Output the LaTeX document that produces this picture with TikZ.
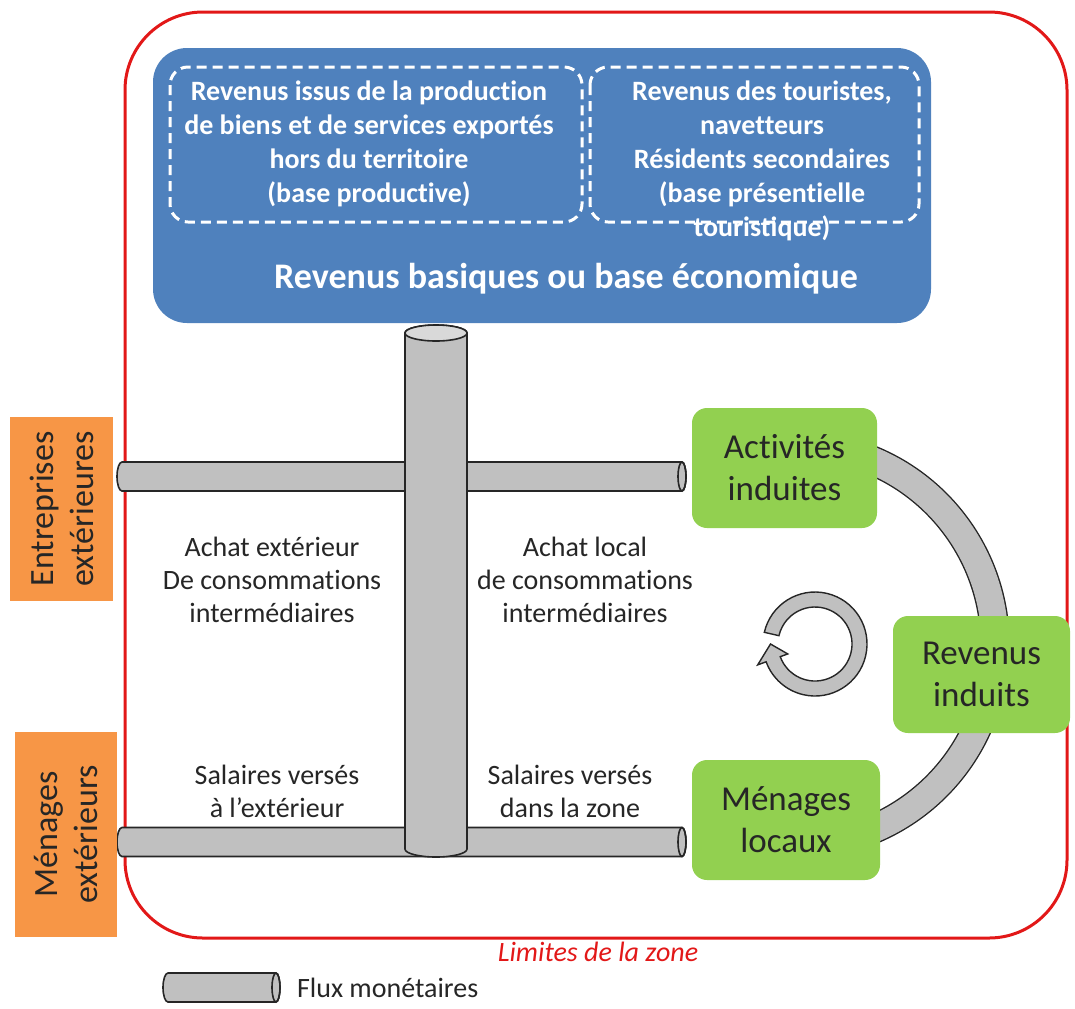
\documentclass[tikz,border=0pt]{standalone}
\usepackage{fontspec}
\setmainfont{Carlito}[Ligatures={TeX,NoCommon}]
\usepackage{tikz}
\usetikzlibrary{
    positioning,
    calc
}
\definecolor{baseBlue}{RGB}{79, 129, 189}
\definecolor{induitGreen}{RGB}{146, 208, 80}
\definecolor{extOrange}{RGB}{247, 150, 70}
\definecolor{fluxGray}{RGB}{192, 192, 192}
\definecolor{fluxTop}{RGB}{217, 217, 217}
\definecolor{zoneRed}{RGB}{226, 24, 24}

\begin{document}
\begin{tikzpicture}[x=0.5pt, y=-0.5pt,
    pipe/.style={draw=black!85, line width=0.8pt, fill=fluxGray},
    greenbox/.style={fill=induitGreen, rounded corners=7.5pt, inner sep=0pt, align=center,
        text=black!85, font=\fontsize{17.5}{21}\selectfont},
    orangebox/.style={fill=extOrange, rotate=90, inner sep=0pt, align=center,
        text=black!85, font=\fontsize{17}{20}\selectfont},
    basetext/.style={align=center, text=white, font=\bfseries\fontsize{14}{17}\selectfont},
    fluxlabel/.style={align=center, text=black!85, font=\fontsize{14}{16.5}\selectfont}
]
            \useasboundingbox (0,0) rectangle (1075,1008);

            % limits of the zone
            \draw[zoneRed, line width=1.5pt, rounded corners=39pt] (125,12) rectangle (1067,938);

            % economic base
            \fill[baseBlue, rounded corners=17pt] (153,48) rectangle (931,323);
            \draw[white, line width=1.5pt, dash pattern=on 5pt off 3pt, rounded corners=9pt] (170,67) rectangle (582,222);
            \draw[white, line width=1.5pt, dash pattern=on 5pt off 3pt, rounded corners=9pt] (590,67) rectangle (919,222);
            \node[basetext] (prod) at (369,144) {Revenus issus de la production\\de biens et de services exportés\\hors du territoire\\(base productive)};
            \node[basetext] (tour) at (762,161) {Revenus des touristes,\\navetteurs\\Résidents secondaires\\(base présentielle\\touristique)};
            \node[text=white, font=\bfseries\fontsize{18}{21}\selectfont] (base) at (566,279) {Revenus basiques ou base économique};

            % induced loop
            \coordinate (L) at (795,645);
            \draw[black!85, line width=0.7pt, double=fluxGray, double distance=13.5pt]
                ($(L)+(-80:200)$) arc[start angle=-80, end angle=80, radius=200];

            % circular arrow
            \coordinate (R) at (815,644);
            \draw[pipe, line width=0.7pt] ($(R)+(193:52)$) arc[start angle=193, end angle=520, radius=52]
                -- ($(R)+(160:61)$) -- ($(R)+(180:44.5)$) -- ($(R)+(160:29)$)
                -- ($(R)+(160:37)$) arc[start angle=520, end angle=193, radius=37] -- cycle;

            \node[greenbox, minimum width=92.5pt, minimum height=60pt] (act) at (784.5,468) {Activités\\induites};
            \node[greenbox, minimum width=88.5pt, minimum height=58.5pt] (rev) at (981.5,674.5) {Revenus\\induits};
            \node[greenbox, minimum width=94pt, minimum height=60pt] (men) at (786,820) {Ménages\\locaux};

            % monetary flows (horizontal pipes and legend)
            \foreach \xa/\xb/\y in {122/682/476.5, 122/682/842, 168/276/987.5}{
                \draw[pipe] (\xa,\y-14.5) -- (\xb,\y-14.5)
                    arc[start angle=-90, end angle=90, x radius=4, y radius=14.5]
                    -- (\xa,\y+14.5)
                    arc[start angle=90, end angle=270, x radius=5, y radius=14.5] -- cycle;
                \draw[black!85, line width=0.8pt] (\xb,\y) ellipse [x radius=4, y radius=14.5];
            }

            % vertical pipe
            \draw[pipe] (405,333) -- (405,849) arc[start angle=180, end angle=0, x radius=31, y radius=8]
                -- (467,333) arc[start angle=0, end angle=-180, x radius=31, y radius=8] -- cycle;
            \draw[pipe, fill=fluxTop] (436,333) ellipse [x radius=31, y radius=8];

            \node[fluxlabel] (achatExt) at (272,580) {Achat extérieur\\De consommations\\intermédiaires};
            \node[fluxlabel] (achatLoc) at (585,580) {Achat local\\de consommations\\intermédiaires};
            \node[fluxlabel] (salExt) at (277,791.5) {Salaires versés\\à l’extérieur};
            \node[fluxlabel] (salLoc) at (570,791.5) {Salaires versés\\dans la zone};

            % outside actors
            \node[orangebox, minimum width=92pt, minimum height=51.5pt] (entExt) at (61.5,509) {Entreprises\\extérieures};
            \node[orangebox, minimum width=102.5pt, minimum height=51pt] (menExt) at (66,834.5) {Ménages\\extérieurs};

            \node[text=zoneRed, font=\itshape\fontsize{14}{16}\selectfont] (zone) at (598,952) {Limites de la zone};
            \node[fluxlabel, anchor=west] (legend) at (290,987.5) {Flux monétaires};
        \end{tikzpicture}
\end{document}
